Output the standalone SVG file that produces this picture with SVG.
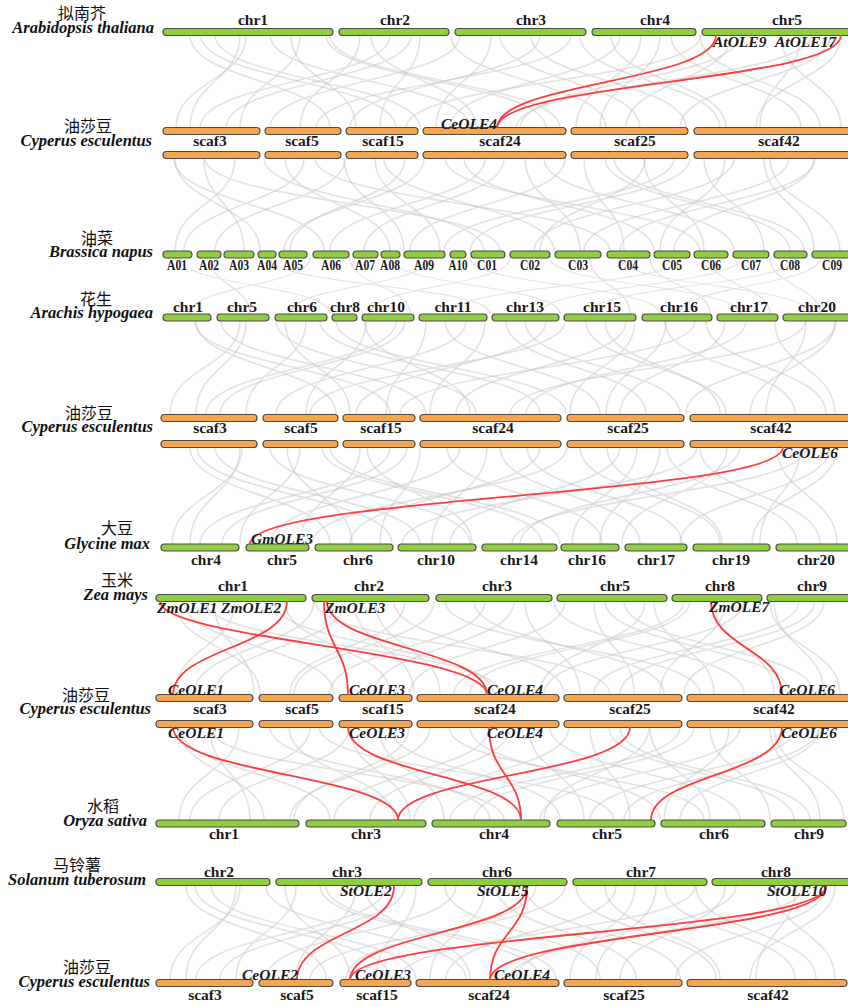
<svg xmlns="http://www.w3.org/2000/svg" xmlns:xlink="http://www.w3.org/1999/xlink" width="848" height="1007" viewBox="0 0 848 1007">
<style>
.g{fill:#8fcf3f;stroke:#4a4a4a;stroke-width:1.2}
.o{fill:#f6a650;stroke:#4a4a4a;stroke-width:1.2}
.lab{font-family:"Liberation Serif",serif;font-weight:bold;font-size:15.5px;text-anchor:middle;fill:#1a1a1a}
.sm{font-size:14px}
.gene{font-family:"Liberation Serif",serif;font-weight:bold;font-style:italic;font-size:15.5px;fill:#1a1a1a}
.spl{fill:#111}
.sp{font-family:"Liberation Serif",serif;font-weight:bold;font-style:italic;font-size:16.5px;text-anchor:end}
.cn{font-family:"Noto Sans CJK SC",sans-serif;font-size:16px;font-weight:normal;font-style:normal;text-anchor:middle}
.red{fill:none;stroke:#ff3b3b;stroke-width:1.8}
.gr{fill:none;stroke:#bdbdbd;stroke-width:1.6;opacity:0.42;vector-effect:non-scaling-stroke}
</style>
<defs>
<g id="fan1" class="gr">
<path d="M190,0 C190,46 330,46 330,93"/><path d="M215,0 C215,46 420,46 420,93"/><path d="M240,0 C240,46 190,46 190,93"/>
<path d="M270,0 C270,46 470,46 470,93"/><path d="M300,0 C300,46 240,46 240,93"/><path d="M330,0 C330,46 560,46 560,93"/>
<path d="M360,0 C360,46 300,46 300,93"/><path d="M390,0 C390,46 200,46 200,93"/><path d="M420,0 C420,46 380,46 380,93"/>
<path d="M460,0 C460,46 270,46 270,93"/><path d="M500,0 C500,46 640,46 640,93"/><path d="M540,0 C540,46 350,46 350,93"/>
<path d="M580,0 C580,46 720,46 720,93"/><path d="M620,0 C620,46 450,46 450,93"/><path d="M660,0 C660,46 600,46 600,93"/>
<path d="M700,0 C700,46 820,46 820,93"/><path d="M740,0 C740,46 520,46 520,93"/><path d="M800,0 C800,46 760,46 760,93"/>
<path d="M830,0 C830,46 680,46 680,93"/>
</g>
<g id="fan2" class="gr">
<path d="M175,0 C175,46 260,46 260,93"/><path d="M205,0 C205,46 500,46 500,93"/><path d="M235,0 C235,46 175,46 175,93"/>
<path d="M285,0 C285,46 390,46 390,93"/><path d="M315,0 C315,46 610,46 610,93"/><path d="M345,0 C345,46 215,46 215,93"/>
<path d="M375,0 C375,46 440,46 440,93"/><path d="M405,0 C405,46 290,46 290,93"/><path d="M445,0 C445,46 700,46 700,93"/>
<path d="M485,0 C485,46 330,46 330,93"/><path d="M525,0 C525,46 580,46 580,93"/><path d="M565,0 C565,46 410,46 410,93"/>
<path d="M605,0 C605,46 790,46 790,93"/><path d="M645,0 C645,46 540,46 540,93"/><path d="M690,0 C690,46 470,46 470,93"/>
<path d="M725,0 C725,46 660,46 660,93"/><path d="M770,0 C770,46 840,46 840,93"/><path d="M815,0 C815,46 620,46 620,93"/>
</g>
</defs>
<rect width="848" height="1007" fill="#ffffff"/>

<g id="background-links">
<use xlink:href="#fan1" transform="translate(0,35)"/>
<use xlink:href="#fan2" transform="translate(1016,35) scale(-1,1)"/>
<use xlink:href="#fan2" transform="translate(0,158)"/>
<use xlink:href="#fan1" transform="translate(1004,158) scale(-1,1)"/>
<use xlink:href="#fan1" transform="translate(1010,258) scale(-1,0.6)"/>
<use xlink:href="#fan2" transform="translate(1010,321) scale(-1,1)"/>
<use xlink:href="#fan1" transform="translate(6,321)"/>
<use xlink:href="#fan1" transform="translate(0,447) scale(1,1.043)"/>
<use xlink:href="#fan2" transform="translate(1012,447) scale(-1,1.043)"/>
<use xlink:href="#fan2" transform="translate(0,601)"/>
<use xlink:href="#fan1" transform="translate(1014,601) scale(-1,1)"/>
<use xlink:href="#fan1" transform="translate(1010,727) scale(-1,1)"/>
<use xlink:href="#fan2" transform="translate(4,727)"/>
<use xlink:href="#fan2" transform="translate(1010,886) scale(-1,1)"/>
<use xlink:href="#fan1" transform="translate(-4,886)"/>
</g>

<!-- Row 1 Arabidopsis -->
<g id="arabidopsis">
<text class="spl"><tspan class="cn" x="82" y="19">拟南芥</tspan><tspan class="sp" x="154" y="33">Arabidopsis thaliana</tspan></text>
<g id="at-chr1"><rect class="g" x="163" y="28.5" width="170" height="7" rx="3.5"/><text class="lab" x="253" y="25">chr1</text></g>
<g id="at-chr2"><rect class="g" x="339" y="28.5" width="110" height="7" rx="3.5"/><text class="lab" x="395" y="25">chr2</text></g>
<g id="at-chr3"><rect class="g" x="455" y="28.5" width="131" height="7" rx="3.5"/><text class="lab" x="531" y="25">chr3</text></g>
<g id="at-chr4"><rect class="g" x="592" y="28.5" width="104" height="7" rx="3.5"/><text class="lab" x="655" y="25">chr4</text></g>
<g id="at-chr5"><rect class="g" x="702" y="28.5" width="150" height="7" rx="3.5"/><text class="lab" x="787" y="25">chr5</text></g>
</g>

<!-- Row 2 Cyperus -->
<g id="cyperus1">
<text class="spl"><tspan class="cn" x="88" y="132">油莎豆</tspan><tspan class="sp" x="152" y="146">Cyperus esculentus</tspan></text>
<g id="c1-scaf3"><rect class="o" x="163" y="127.5" width="97" height="7" rx="3.5"/><rect class="o" x="163" y="151.5" width="97" height="7" rx="3.5"/><text class="lab" x="210" y="146">scaf3</text></g>
<g id="c1-scaf5"><rect class="o" x="265" y="127.5" width="76" height="7" rx="3.5"/><rect class="o" x="265" y="151.5" width="76" height="7" rx="3.5"/><text class="lab" x="302" y="146">scaf5</text></g>
<g id="c1-scaf15"><rect class="o" x="346" y="127.5" width="72" height="7" rx="3.5"/><rect class="o" x="346" y="151.5" width="72" height="7" rx="3.5"/><text class="lab" x="383" y="146">scaf15</text></g>
<g id="c1-scaf24"><rect class="o" x="423" y="127.5" width="143" height="7" rx="3.5"/><rect class="o" x="423" y="151.5" width="143" height="7" rx="3.5"/><text class="lab" x="500" y="146">scaf24</text></g>
<g id="c1-scaf25"><rect class="o" x="571" y="127.5" width="117" height="7" rx="3.5"/><rect class="o" x="571" y="151.5" width="117" height="7" rx="3.5"/><text class="lab" x="635" y="146">scaf25</text></g>
<g id="c1-scaf42"><rect class="o" x="694" y="127.5" width="156" height="7" rx="3.5"/><rect class="o" x="694" y="151.5" width="156" height="7" rx="3.5"/><text class="lab" x="779" y="146">scaf42</text></g>
</g>

<!-- Row 3 Brassica -->
<g id="brassica">
<text class="spl"><tspan class="cn" x="97" y="244">油菜</tspan><tspan class="sp" x="153" y="257">Brassica napus</tspan></text>
<g id="bn-A01"><rect class="g" x="163" y="251" width="29" height="7" rx="3.5"/><text class="lab sm" x="177" y="270" textLength="20" lengthAdjust="spacingAndGlyphs">A01</text></g>
<g id="bn-A02"><rect class="g" x="197" y="251" width="24" height="7" rx="3.5"/><text class="lab sm" x="209" y="270" textLength="20" lengthAdjust="spacingAndGlyphs">A02</text></g>
<g id="bn-A03"><rect class="g" x="224" y="251" width="30" height="7" rx="3.5"/><text class="lab sm" x="239" y="270" textLength="20" lengthAdjust="spacingAndGlyphs">A03</text></g>
<g id="bn-A04"><rect class="g" x="258" y="251" width="18" height="7" rx="3.5"/><text class="lab sm" x="267" y="270" textLength="20" lengthAdjust="spacingAndGlyphs">A04</text></g>
<g id="bn-A05"><rect class="g" x="279" y="251" width="28" height="7" rx="3.5"/><text class="lab sm" x="293" y="270" textLength="20" lengthAdjust="spacingAndGlyphs">A05</text></g>
<g id="bn-A06"><rect class="g" x="313" y="251" width="36" height="7" rx="3.5"/><text class="lab sm" x="331" y="270" textLength="20" lengthAdjust="spacingAndGlyphs">A06</text></g>
<g id="bn-A07"><rect class="g" x="353" y="251" width="25" height="7" rx="3.5"/><text class="lab sm" x="365" y="270" textLength="20" lengthAdjust="spacingAndGlyphs">A07</text></g>
<g id="bn-A08"><rect class="g" x="381" y="251" width="19" height="7" rx="3.5"/><text class="lab sm" x="390" y="270" textLength="20" lengthAdjust="spacingAndGlyphs">A08</text></g>
<g id="bn-A09"><rect class="g" x="404" y="251" width="41" height="7" rx="3.5"/><text class="lab sm" x="424" y="270" textLength="20" lengthAdjust="spacingAndGlyphs">A09</text></g>
<g id="bn-A10"><rect class="g" x="450" y="251" width="16" height="7" rx="3.5"/><text class="lab sm" x="458" y="270" textLength="19" lengthAdjust="spacingAndGlyphs">A10</text></g>
<g id="bn-C01"><rect class="g" x="471" y="251" width="34" height="7" rx="3.5"/><text class="lab sm" x="487" y="270" textLength="20" lengthAdjust="spacingAndGlyphs">C01</text></g>
<g id="bn-C02"><rect class="g" x="510" y="251" width="40" height="7" rx="3.5"/><text class="lab sm" x="530" y="270" textLength="20" lengthAdjust="spacingAndGlyphs">C02</text></g>
<g id="bn-C03"><rect class="g" x="555" y="251" width="46" height="7" rx="3.5"/><text class="lab sm" x="578" y="270" textLength="20" lengthAdjust="spacingAndGlyphs">C03</text></g>
<g id="bn-C04"><rect class="g" x="607" y="251" width="43" height="7" rx="3.5"/><text class="lab sm" x="628" y="270" textLength="20" lengthAdjust="spacingAndGlyphs">C04</text></g>
<g id="bn-C05"><rect class="g" x="654" y="251" width="36" height="7" rx="3.5"/><text class="lab sm" x="672" y="270" textLength="20" lengthAdjust="spacingAndGlyphs">C05</text></g>
<g id="bn-C06"><rect class="g" x="694" y="251" width="34" height="7" rx="3.5"/><text class="lab sm" x="711" y="270" textLength="20" lengthAdjust="spacingAndGlyphs">C06</text></g>
<g id="bn-C07"><rect class="g" x="733" y="251" width="36" height="7" rx="3.5"/><text class="lab sm" x="751" y="270" textLength="20" lengthAdjust="spacingAndGlyphs">C07</text></g>
<g id="bn-C08"><rect class="g" x="774" y="251" width="33" height="7" rx="3.5"/><text class="lab sm" x="790" y="270" textLength="20" lengthAdjust="spacingAndGlyphs">C08</text></g>
<g id="bn-C09"><rect class="g" x="812" y="251" width="40" height="7" rx="3.5"/><text class="lab sm" x="832" y="270" textLength="20" lengthAdjust="spacingAndGlyphs">C09</text></g>
</g>

<!-- Row 4 Arachis -->
<g id="arachis">
<text class="spl"><tspan class="cn" x="96" y="305">花生</tspan><tspan class="sp" x="153" y="318">Arachis hypogaea</tspan></text>
<g id="ah-chr1"><rect class="g" x="163" y="314" width="48" height="7" rx="3.5"/><text class="lab" x="188" y="312">chr1</text></g>
<g id="ah-chr5"><rect class="g" x="217" y="314" width="52" height="7" rx="3.5"/><text class="lab" x="242" y="312">chr5</text></g>
<g id="ah-chr6"><rect class="g" x="275" y="314" width="52" height="7" rx="3.5"/><text class="lab" x="302" y="312">chr6</text></g>
<g id="ah-chr8"><rect class="g" x="332" y="314" width="25" height="7" rx="3.5"/><text class="lab" x="345" y="312">chr8</text></g>
<g id="ah-chr10"><rect class="g" x="362" y="314" width="52" height="7" rx="3.5"/><text class="lab" x="386" y="312">chr10</text></g>
<g id="ah-chr11"><rect class="g" x="419" y="314" width="68" height="7" rx="3.5"/><text class="lab" x="453" y="312">chr11</text></g>
<g id="ah-chr13"><rect class="g" x="492" y="314" width="67" height="7" rx="3.5"/><text class="lab" x="525" y="312">chr13</text></g>
<g id="ah-chr15"><rect class="g" x="564" y="314" width="72" height="7" rx="3.5"/><text class="lab" x="602" y="312">chr15</text></g>
<g id="ah-chr16"><rect class="g" x="642" y="314" width="70" height="7" rx="3.5"/><text class="lab" x="679" y="312">chr16</text></g>
<g id="ah-chr17"><rect class="g" x="717" y="314" width="61" height="7" rx="3.5"/><text class="lab" x="749" y="312">chr17</text></g>
<g id="ah-chr20"><rect class="g" x="783" y="314" width="69" height="7" rx="3.5"/><text class="lab" x="817" y="312">chr20</text></g>
</g>

<!-- Row 5 Cyperus -->
<g id="cyperus2">
<text class="spl"><tspan class="cn" x="89" y="419">油莎豆</tspan><tspan class="sp" x="153" y="432">Cyperus esculentus</tspan></text>
<g id="c2-scaf3"><rect class="o" x="161" y="414.5" width="96" height="7" rx="3.5"/><rect class="o" x="161" y="440.5" width="96" height="7" rx="3.5"/><text class="lab" x="210" y="433">scaf3</text></g>
<g id="c2-scaf5"><rect class="o" x="263" y="414.5" width="75" height="7" rx="3.5"/><rect class="o" x="263" y="440.5" width="75" height="7" rx="3.5"/><text class="lab" x="301" y="433">scaf5</text></g>
<g id="c2-scaf15"><rect class="o" x="343" y="414.5" width="72" height="7" rx="3.5"/><rect class="o" x="343" y="440.5" width="72" height="7" rx="3.5"/><text class="lab" x="381" y="433">scaf15</text></g>
<g id="c2-scaf24"><rect class="o" x="420" y="414.5" width="141" height="7" rx="3.5"/><rect class="o" x="420" y="440.5" width="141" height="7" rx="3.5"/><text class="lab" x="493" y="433">scaf24</text></g>
<g id="c2-scaf25"><rect class="o" x="567" y="414.5" width="117" height="7" rx="3.5"/><rect class="o" x="567" y="440.5" width="117" height="7" rx="3.5"/><text class="lab" x="628" y="433">scaf25</text></g>
<g id="c2-scaf42"><rect class="o" x="690" y="414.5" width="160" height="7" rx="3.5"/><rect class="o" x="690" y="440.5" width="160" height="7" rx="3.5"/><text class="lab" x="771" y="433">scaf42</text></g>
</g>

<!-- Row 6 Glycine -->
<g id="glycine">
<text class="spl"><tspan class="cn" x="117" y="534">大豆</tspan><tspan class="sp" x="150" y="549">Glycine max</tspan></text>
<g id="gm-chr4"><rect class="g" x="161" y="544" width="78" height="7" rx="3.5"/><text class="lab" x="206" y="565">chr4</text></g>
<g id="gm-chr5"><rect class="g" x="246" y="544" width="63" height="7" rx="3.5"/><text class="lab" x="282" y="565">chr5</text></g>
<g id="gm-chr6"><rect class="g" x="315" y="544" width="78" height="7" rx="3.5"/><text class="lab" x="358" y="565">chr6</text></g>
<g id="gm-chr10"><rect class="g" x="398" y="544" width="78" height="7" rx="3.5"/><text class="lab" x="436" y="565">chr10</text></g>
<g id="gm-chr14"><rect class="g" x="482" y="544" width="75" height="7" rx="3.5"/><text class="lab" x="519" y="565">chr14</text></g>
<g id="gm-chr16"><rect class="g" x="561" y="544" width="58" height="7" rx="3.5"/><text class="lab" x="587" y="565">chr16</text></g>
<g id="gm-chr17"><rect class="g" x="625" y="544" width="62" height="7" rx="3.5"/><text class="lab" x="656" y="565">chr17</text></g>
<g id="gm-chr19"><rect class="g" x="693" y="544" width="77" height="7" rx="3.5"/><text class="lab" x="731" y="565">chr19</text></g>
<g id="gm-chr20"><rect class="g" x="776" y="544" width="76" height="7" rx="3.5"/><text class="lab" x="816" y="565">chr20</text></g>
</g>

<!-- Row 7 Zea -->
<g id="zea">
<text class="spl"><tspan class="cn" x="117" y="586">玉米</tspan><tspan class="sp" x="148" y="600">Zea mays</tspan></text>
<g id="zm-chr1"><rect class="g" x="156" y="594.5" width="150" height="7" rx="3.5"/><text class="lab" x="233" y="591">chr1</text></g>
<g id="zm-chr2"><rect class="g" x="312" y="594.5" width="117" height="7" rx="3.5"/><text class="lab" x="369" y="591">chr2</text></g>
<g id="zm-chr3"><rect class="g" x="436" y="594.5" width="116" height="7" rx="3.5"/><text class="lab" x="497" y="591">chr3</text></g>
<g id="zm-chr5"><rect class="g" x="557" y="594.5" width="110" height="7" rx="3.5"/><text class="lab" x="615" y="591">chr5</text></g>
<g id="zm-chr8"><rect class="g" x="672" y="594.5" width="90" height="7" rx="3.5"/><text class="lab" x="720" y="591">chr8</text></g>
<g id="zm-chr9"><rect class="g" x="767" y="594.5" width="85" height="7" rx="3.5"/><text class="lab" x="812" y="591">chr9</text></g>
</g>

<!-- Row 8 Cyperus -->
<g id="cyperus3">
<text class="spl"><tspan class="cn" x="86" y="701">油莎豆</tspan><tspan class="sp" x="151" y="714">Cyperus esculentus</tspan></text>
<g id="c3-scaf3"><rect class="o" x="156" y="694.5" width="97" height="7" rx="3.5"/><rect class="o" x="156" y="720.5" width="97" height="7" rx="3.5"/><text class="lab" x="210" y="714">scaf3</text></g>
<g id="c3-scaf5"><rect class="o" x="259" y="694.5" width="74" height="7" rx="3.5"/><rect class="o" x="259" y="720.5" width="74" height="7" rx="3.5"/><text class="lab" x="302" y="714">scaf5</text></g>
<g id="c3-scaf15"><rect class="o" x="339" y="694.5" width="73" height="7" rx="3.5"/><rect class="o" x="339" y="720.5" width="73" height="7" rx="3.5"/><text class="lab" x="383" y="714">scaf15</text></g>
<g id="c3-scaf24"><rect class="o" x="417" y="694.5" width="142" height="7" rx="3.5"/><rect class="o" x="417" y="720.5" width="142" height="7" rx="3.5"/><text class="lab" x="495" y="714">scaf24</text></g>
<g id="c3-scaf25"><rect class="o" x="564" y="694.5" width="118" height="7" rx="3.5"/><rect class="o" x="564" y="720.5" width="118" height="7" rx="3.5"/><text class="lab" x="630" y="714">scaf25</text></g>
<g id="c3-scaf42"><rect class="o" x="687" y="694.5" width="163" height="7" rx="3.5"/><rect class="o" x="687" y="720.5" width="163" height="7" rx="3.5"/><text class="lab" x="774" y="714">scaf42</text></g>
</g>

<!-- Row 9 Oryza -->
<g id="oryza">
<text class="spl"><tspan class="cn" x="103" y="812">水稻</tspan><tspan class="sp" x="147" y="826">Oryza sativa</tspan></text>
<g id="os-chr1"><rect class="g" x="156" y="820" width="143" height="7" rx="3.5"/><text class="lab" x="224" y="839">chr1</text></g>
<g id="os-chr3"><rect class="g" x="306" y="820" width="120" height="7" rx="3.5"/><text class="lab" x="366" y="839">chr3</text></g>
<g id="os-chr4"><rect class="g" x="432" y="820" width="118" height="7" rx="3.5"/><text class="lab" x="494" y="839">chr4</text></g>
<g id="os-chr5"><rect class="g" x="557" y="820" width="98" height="7" rx="3.5"/><text class="lab" x="607" y="839">chr5</text></g>
<g id="os-chr6"><rect class="g" x="661" y="820" width="104" height="7" rx="3.5"/><text class="lab" x="714" y="839">chr6</text></g>
<g id="os-chr9"><rect class="g" x="771" y="820" width="75" height="7" rx="3.5"/><text class="lab" x="809" y="839">chr9</text></g>
</g>

<!-- Row 10 Solanum -->
<g id="solanum">
<text class="spl"><tspan class="cn" x="77" y="871">马铃薯</tspan><tspan class="sp" x="146" y="885">Solanum tuberosum</tspan></text>
<g id="st-chr2"><rect class="g" x="156" y="878.5" width="114" height="7" rx="3.5"/><text class="lab" x="219" y="877">chr2</text></g>
<g id="st-chr3"><rect class="g" x="276" y="878.5" width="146" height="7" rx="3.5"/><text class="lab" x="347" y="877">chr3</text></g>
<g id="st-chr6"><rect class="g" x="428" y="878.5" width="139" height="7" rx="3.5"/><text class="lab" x="497" y="877">chr6</text></g>
<g id="st-chr7"><rect class="g" x="573" y="878.5" width="134" height="7" rx="3.5"/><text class="lab" x="641" y="877">chr7</text></g>
<g id="st-chr8"><rect class="g" x="712" y="878.5" width="140" height="7" rx="3.5"/><text class="lab" x="776" y="877">chr8</text></g>
</g>

<!-- Row 11 Cyperus -->
<g id="cyperus4">
<text class="spl"><tspan class="cn" x="87" y="973">油莎豆</tspan><tspan class="sp" x="150" y="987">Cyperus esculentus</tspan></text>
<g id="c4-scaf3"><rect class="o" x="156" y="979.5" width="97" height="7" rx="3.5"/><text class="lab" x="205" y="1000">scaf3</text></g>
<g id="c4-scaf5"><rect class="o" x="259" y="979.5" width="74" height="7" rx="3.5"/><text class="lab" x="297" y="1000">scaf5</text></g>
<g id="c4-scaf15"><rect class="o" x="340" y="979.5" width="71" height="7" rx="3.5"/><text class="lab" x="377" y="1000">scaf15</text></g>
<g id="c4-scaf24"><rect class="o" x="416" y="979.5" width="143" height="7" rx="3.5"/><text class="lab" x="489" y="1000">scaf24</text></g>
<g id="c4-scaf25"><rect class="o" x="564" y="979.5" width="118" height="7" rx="3.5"/><text class="lab" x="624" y="1000">scaf25</text></g>
<g id="c4-scaf42"><rect class="o" x="687" y="979.5" width="160" height="7" rx="3.5"/><text class="lab" x="768" y="1000">scaf42</text></g>
</g>

<g id="ole-links" class="red">
<path d="M716,35 C716,82 497,82 497,128"/>
<path d="M841,35 C841,82 497,82 497,128"/>
<path d="M783,447 C783,496 250,496 250,544"/>
<path d="M160,601 C160,640 487,650 487,695"/>
<path d="M287,601 C287,648 173,648 173,695"/>
<path d="M324,601 C324,648 348,648 348,695"/>
<path d="M327,601 C327,648 487,648 487,695"/>
<path d="M711,601 C711,648 782,648 782,695"/>
<path d="M173,727 C173,775 398,775 398,820"/>
<path d="M348,727 C348,775 521,775 521,820"/>
<path d="M489,727 C489,775 521,775 521,820"/>
<path d="M630,727 C630,775 398,775 398,820"/>
<path d="M782,727 C782,775 651,775 651,820"/>
<path d="M394,886 C394,933 297,933 297,980"/>
<path d="M527,886 C527,933 350,933 350,980"/>
<path d="M527,886 C527,933 490,933 490,980"/>
<path d="M826,886 C826,933 350,933 350,980"/>
<path d="M826,886 C826,933 490,933 490,980"/>
</g>

<g id="gene-labels" class="gene">
<text x="713" y="47">AtOLE9</text><text x="775" y="47">AtOLE17</text>
<text x="441" y="129">CeOLE4</text>
<text x="782" y="458">CeOLE6</text>
<text x="251" y="544">GmOLE3</text>
<text x="157" y="613">ZmOLE1</text><text x="221" y="613">ZmOLE2</text><text x="325" y="613">ZmOLE3</text><text x="709" y="612">ZmOLE7</text>
<text x="168" y="695">CeOLE1</text><text x="349" y="695">CeOLE3</text><text x="487" y="695">CeOLE4</text><text x="779" y="695">CeOLE6</text>
<text x="168" y="738">CeOLE1</text><text x="349" y="738">CeOLE3</text><text x="487" y="738">CeOLE4</text><text x="781" y="738">CeOLE6</text>
<text x="340" y="896">StOLE2</text><text x="477" y="896">StOLE5</text><text x="767" y="896">StOLE10</text>
<text x="242" y="980">CeOLE2</text><text x="355" y="980">CeOLE3</text><text x="494" y="980">CeOLE4</text>
</g>
</svg>
